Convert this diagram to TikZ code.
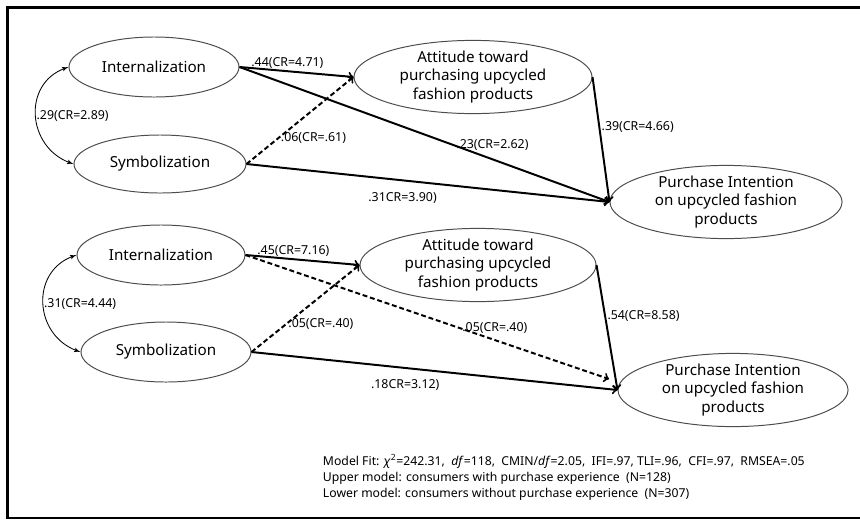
\documentclass[tikz,border=0pt]{standalone}
\usepackage{fontspec}
\setmainfont{Noto Sans}
\usetikzlibrary{arrows,shapes.geometric}

\begin{document}
\begin{tikzpicture} [
  x=0.025cm, y=-0.025cm,
  ->,
  >=to,
  line width=1.4pt,
  latent node/.style={ellipse,draw=black!70,line width=0.7pt,inner sep=0pt,
    align=center,font=\fontsize{10.8}{13}\selectfont},
  path label/.style={font=\fontsize{8.8}{10}\selectfont,inner sep=1pt},
  weak path/.style={dash pattern=on 3.5pt off 2pt},
  covar/.style={latex'-latex',line width=0.6pt,out=200,in=160,looseness=1.3},
  ]

  \useasboundingbox (0,0) rectangle (860,521);
  \draw[-,line width=2.1pt] (860,7.5) -- (7.5,7.5) -- (7.5,518) -- (860,518);

  % upper model
  \node[latent node, minimum width=4.25cm, minimum height=1.5cm] (intA) at (154,67) {Internalization};
  \node[latent node, minimum width=4.3cm, minimum height=1.45cm] (symA) at (160,164) {Symbolization};
  \node[latent node, minimum width=5.95cm, minimum height=1.65cm] (attA) at (473,77)
    {Attitude toward\\purchasing upcycled\\fashion products};
  \node[latent node, minimum width=5.8cm, minimum height=1.8cm] (piA) at (726,202)
    {Purchase Intention\\on upcycled fashion\\products};

  \path
    (intA.east) edge node[path label, pos=.42, above] (la1) {.44(CR=4.71)} (attA.west)
                edge node[path label, pos=.58, anchor=west] (la2) {.23(CR=2.62)} (piA.west)
    (symA.east) edge[weak path] node[path label, pos=.3, anchor=west] (la3) {.06(CR=.61)} (attA.west)
                edge node[path label, pos=.43, below=2.4mm] (la4) {.31CR=3.90)} (piA.west)
    (attA.east) edge node[path label, pos=.4, anchor=west] (la5) {.39(CR=4.66)} (piA.west);

  \path (intA.west) edge[covar] node[path label, pos=.5, anchor=west, inner sep=0pt] (la6) {.29(CR=2.89)} (symA.west);

  % lower model
  \node[latent node, minimum width=4.2cm, minimum height=1.5cm] (intB) at (161,255) {Internalization};
  \node[latent node, minimum width=4.25cm, minimum height=1.5cm] (symB) at (166,352) {Symbolization};
  \node[latent node, minimum width=5.9cm, minimum height=1.65cm] (attB) at (478,265)
    {Attitude toward\\purchasing upcycled\\fashion products};
  \node[latent node, minimum width=5.75cm, minimum height=1.8cm] (piB) at (733,390)
    {Purchase Intention\\on upcycled fashion\\products};
  \coordinate (piBin) at (609,379);

  \path
    (intB.east) edge node[path label, pos=.42, above] (lb1) {.45(CR=7.16)} (attB.west)
                edge[weak path] node[path label, pos=.59, anchor=west] (lb2) {.05(CR=.40)} (piBin)
    (symB.east) edge[weak path] node[path label, pos=.32, anchor=west] (lb3) {.05(CR=.40)} (attB.west)
                edge node[path label, pos=.42, below=2.4mm] (lb4) {.18CR=3.12)} (piB.west)
    (attB.east) edge node[path label, pos=.41, anchor=west] (lb5) {.54(CR=8.58)} (piB.west);

  \path (intB.west) edge[covar] node[path label, pos=.5, anchor=west, inner sep=0pt] (lb6) {.31(CR=4.44)} (symB.west);

  \node[anchor=north west, align=left, inner sep=0pt, font=\fontsize{8.7}{11.3}\selectfont] (fit) at (322,453)
    {Model Fit: \textit{χ}\textsuperscript{2}=242.31,\ \ \textit{df}=118,\ \ CMIN/\textit{df}=2.05,\ \ IFI=.97, TLI=.96,\ \ CFI=.97,\ \ RMSEA=.05\\
     Upper model: consumers with purchase experience\ \ (N=128)\\
     Lower model: consumers without purchase experience\ \ (N=307)};
\end{tikzpicture}
\end{document}
